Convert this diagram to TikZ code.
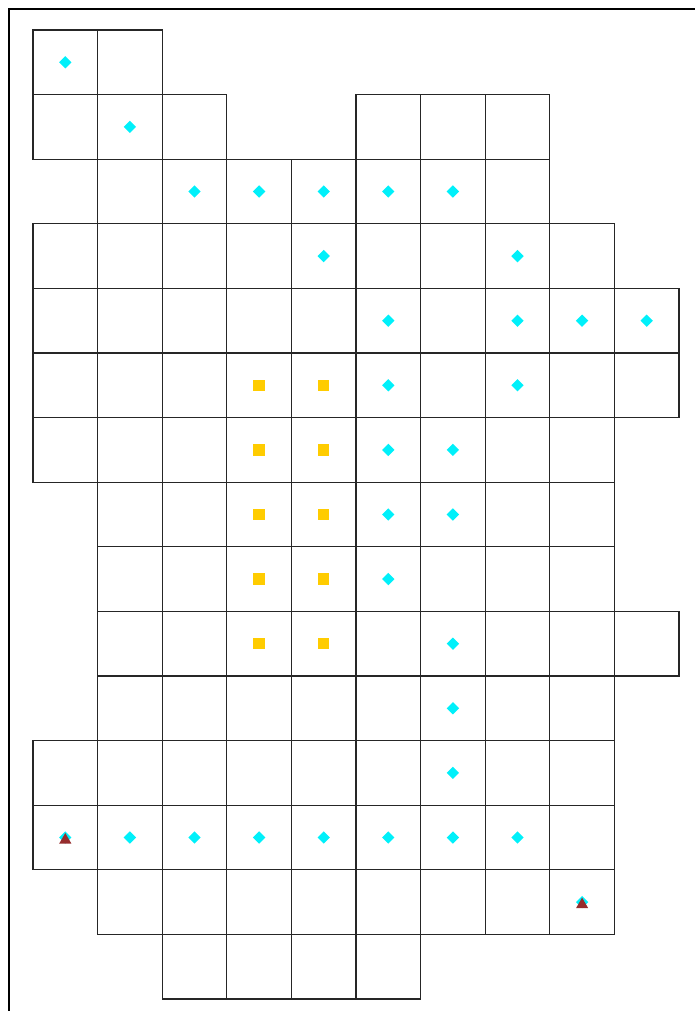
\documentclass[tikz,border=0pt]{standalone}
\usetikzlibrary{shapes.geometric}
\definecolor{dia}{RGB}{0,240,250}
\definecolor{sq}{RGB}{255,204,0}
\definecolor{tri}{RGB}{150,45,45}
\begin{document}
\begin{tikzpicture}[x=1pt,y=-1pt,
  cellbox/.style={draw=black!85,line width=1.2pt},
  diamark/.style={diamond,fill=dia,inner sep=0pt,minimum width=12.5pt,minimum height=12.5pt},
  sqmark/.style={rectangle,fill=sq,inner sep=0pt,minimum size=11.5pt},
  trimark/.style={regular polygon,regular polygon sides=3,fill=tri,inner sep=0pt,minimum size=14pt}]
\useasboundingbox (0,0) rectangle (695,1011);
\def\cs{64.6}
% frame
\draw[line width=2.4pt] (9,1011) -- (9,9) -- (695,9);
% grid cells: row/startcol/endcol
\foreach \r/\a/\b in {0/0/1,1/0/2,1/5/7,2/1/7,3/0/8,4/0/9,5/0/9,6/0/8,7/1/8,8/1/8,9/1/9,10/1/8,11/0/8,12/0/8,13/1/8,14/2/5}{
  \foreach \c in {\a,...,\b}{
    \draw[cellbox] ({33+\c*\cs},{30+\r*\cs}) rectangle ({33+(\c+1)*\cs},{30+(\r+1)*\cs});
  }
}
% diamonds
\foreach \r/\c [count=\i] in {0/0,1/1,2/2,2/3,2/4,2/5,2/6,3/4,3/7,4/5,4/7,4/8,4/9,5/5,5/7,6/5,6/6,7/5,7/6,8/5,9/6,10/6,11/6,12/1,12/2,12/3,12/4,12/5,12/6,12/7,12/0,13/8}{
  \node[diamark] (d\i) at ({33+(\c+0.5)*\cs},{30+(\r+0.5)*\cs}) {};
}
% squares
\foreach \r in {5,...,9}{
  \foreach \c in {3,4}{
    \node[sqmark] (s\r-\c) at ({33+(\c+0.5)*\cs},{30+(\r+0.5)*\cs}) {};
  }
}
% triangles
\node[trimark] (t1) at ({33+0.5*\cs},{30+12.5*\cs+2.5}) {};
\node[trimark] (t2) at ({33+8.5*\cs},{30+13.5*\cs+2.5}) {};
\end{tikzpicture}
\end{document}
